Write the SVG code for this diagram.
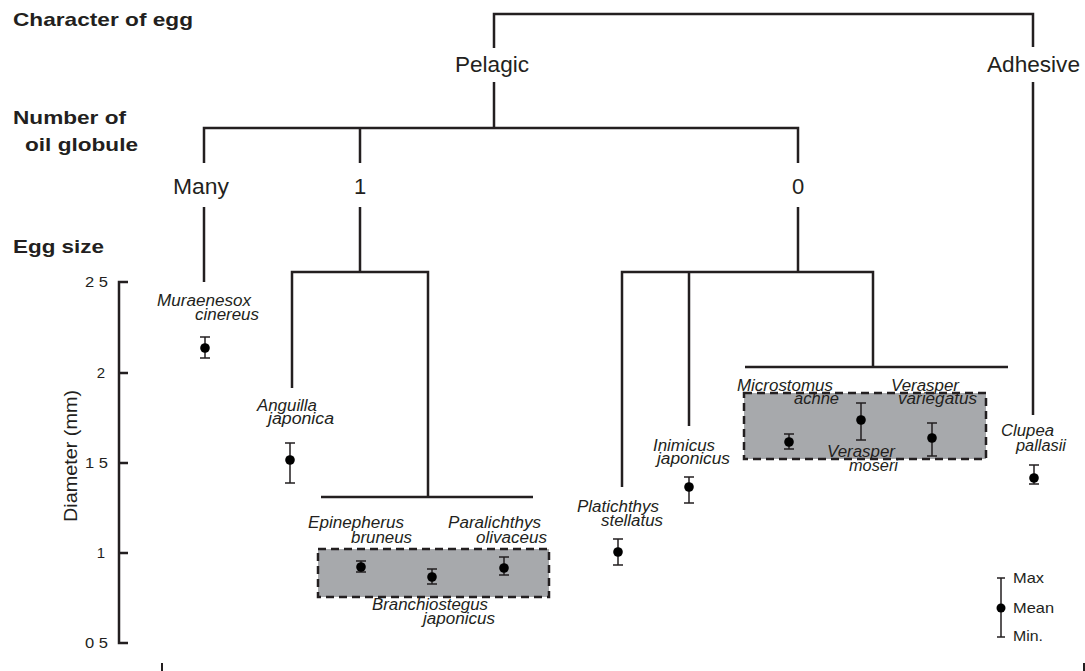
<svg xmlns="http://www.w3.org/2000/svg" width="1085" height="671" viewBox="0 0 1085 671">
<style>
text{font-family:"Liberation Sans",Arial,sans-serif;fill:#231f20}
.h{font-weight:bold;font-size:19px}
.c{font-size:22px}
.sp{font-style:italic;font-size:16px}
.tk{font-size:15px}
.lg{font-size:14.5px}
.ln{fill:none;stroke:#231f20;stroke-width:2.5}
.bar{fill:none;stroke:#231f20;stroke-width:1.5}
.dot{fill:#000}
.box{fill:#a7a9ac;stroke:#231f20;stroke-width:2.5;stroke-dasharray:8 5}
</style>
<defs>
<g id="cap"><line x1="-5" y1="0" x2="5" y2="0" stroke="#231f20" stroke-width="1.5"/></g>
</defs>
<g id="headings">
<text class="h" x="13" y="26" textLength="180" lengthAdjust="spacingAndGlyphs">Character of egg</text>
<text class="h" x="13" y="124" textLength="113" lengthAdjust="spacingAndGlyphs">Number of</text>
<text class="h" x="25" y="151" textLength="113" lengthAdjust="spacingAndGlyphs">oil globule</text>
<text class="h" x="13" y="253" textLength="91" lengthAdjust="spacingAndGlyphs">Egg size</text>
</g>
<g id="connectors">
<path class="ln" d="M494 48V14H1033V47"/>
<path class="ln" d="M494 82V128"/>
<path class="ln" d="M204 163V128H798V163M360 128V163"/>
<path class="ln" d="M204 207V282"/>
<path class="ln" d="M360 207V272M292 388V272H428V497M321 497H533"/>
<path class="ln" d="M798 207V272M622 487V272H873V367M689 426V272M745 367H1008"/>
<path class="ln" d="M1033 82V415"/>
</g>
<g id="node-pelagic"><text class="c" x="455" y="72" textLength="74" lengthAdjust="spacingAndGlyphs">Pelagic</text></g>
<g id="node-adhesive"><text class="c" x="987" y="72" textLength="93" lengthAdjust="spacingAndGlyphs">Adhesive</text></g>
<g id="node-many"><text class="c" x="173" y="193.5" textLength="56" lengthAdjust="spacingAndGlyphs">Many</text></g>
<g id="node-one"><text class="c" x="360" y="193.5" text-anchor="middle">1</text></g>
<g id="node-zero"><text class="c" x="798" y="193.5" text-anchor="middle">0</text></g>
<g id="axis">
<path class="ln" d="M128 282H119V643H128M119 373H128M119 463H128M119 553H128"/>
<text class="tk" x="108" y="287" text-anchor="end" textLength="23" lengthAdjust="spacingAndGlyphs">2 5</text>
<text class="tk" x="105" y="378" text-anchor="end">2</text>
<text class="tk" x="108" y="468" text-anchor="end" textLength="23" lengthAdjust="spacingAndGlyphs">1 5</text>
<text class="tk" x="105" y="558" text-anchor="end">1</text>
<text class="tk" x="108" y="648" text-anchor="end" textLength="23" lengthAdjust="spacingAndGlyphs">0 5</text>
<text transform="translate(77 456) rotate(-90)" font-size="19" text-anchor="middle" textLength="132" lengthAdjust="spacingAndGlyphs">Diameter (mm)</text>
<line x1="162" y1="663" x2="162" y2="671" stroke="#231f20" stroke-width="2"/>
<line x1="1084" y1="663" x2="1084" y2="671" stroke="#231f20" stroke-width="2"/>
</g>
<g id="group-box-1"><rect class="box" x="318" y="549" width="231" height="48"/></g>
<g id="group-box-2"><rect class="box" x="744" y="393" width="242" height="66"/></g>
<g id="sp-muraenesox">
<text class="sp" x="157" y="306" textLength="94" lengthAdjust="spacingAndGlyphs">Muraenesox</text>
<text class="sp" x="195" y="320" textLength="64" lengthAdjust="spacingAndGlyphs">cinereus</text>
<path class="bar" d="M205 337V358M200 337H210M200 358H210"/><circle class="dot" cx="205" cy="348" r="4.8"/>
</g>
<g id="sp-anguilla">
<text class="sp" x="257" y="411" textLength="60" lengthAdjust="spacingAndGlyphs">Anguilla</text>
<text class="sp" x="268" y="424" textLength="66" lengthAdjust="spacingAndGlyphs">japonica</text>
<path class="bar" d="M290 443V483M285 443H295M285 483H295"/><circle class="dot" cx="290" cy="460" r="4.8"/>
</g>
<g id="sp-epinepherus">
<text class="sp" x="308" y="528" textLength="96" lengthAdjust="spacingAndGlyphs">Epinepherus</text>
<text class="sp" x="351" y="543" textLength="61" lengthAdjust="spacingAndGlyphs">bruneus</text>
<path class="bar" d="M361 561V572M356 561H366M356 572H366"/><circle class="dot" cx="361" cy="567" r="4.8"/>
</g>
<g id="sp-branchiostegus">
<text class="sp" x="372" y="610" textLength="116" lengthAdjust="spacingAndGlyphs">Branchiostegus</text>
<text class="sp" x="423" y="624" textLength="72" lengthAdjust="spacingAndGlyphs">japonicus</text>
<path class="bar" d="M432 569V584M427 569H437M427 584H437"/><circle class="dot" cx="432" cy="577" r="4.8"/>
</g>
<g id="sp-paralichthys">
<text class="sp" x="448" y="528" textLength="93" lengthAdjust="spacingAndGlyphs">Paralichthys</text>
<text class="sp" x="476" y="543" textLength="71" lengthAdjust="spacingAndGlyphs">olivaceus</text>
<path class="bar" d="M504 557V575M499 557H509M499 575H509"/><circle class="dot" cx="504" cy="568" r="4.8"/>
</g>
<g id="sp-platichthys">
<text class="sp" x="577" y="512" textLength="82" lengthAdjust="spacingAndGlyphs">Platichthys</text>
<text class="sp" x="601" y="526" textLength="62" lengthAdjust="spacingAndGlyphs">stellatus</text>
<path class="bar" d="M618 539V565M613 539H623M613 565H623"/><circle class="dot" cx="618" cy="552" r="4.8"/>
</g>
<g id="sp-inimicus">
<text class="sp" x="653" y="451" textLength="62" lengthAdjust="spacingAndGlyphs">Inimicus</text>
<text class="sp" x="657" y="464" textLength="73" lengthAdjust="spacingAndGlyphs">japonicus</text>
<path class="bar" d="M689 477V503M684 477H694M684 503H694"/><circle class="dot" cx="689" cy="487" r="4.8"/>
</g>
<g id="sp-microstomus">
<text class="sp" x="737" y="391" textLength="96" lengthAdjust="spacingAndGlyphs">Microstomus</text>
<text class="sp" x="794" y="404" textLength="45" lengthAdjust="spacingAndGlyphs">achne</text>
<path class="bar" d="M789 434V449M784 434H794M784 449H794"/><circle class="dot" cx="789" cy="442" r="4.8"/>
</g>
<g id="sp-verasper-moseri">
<text class="sp" x="827" y="457" textLength="68" lengthAdjust="spacingAndGlyphs">Verasper</text>
<text class="sp" x="849" y="471" textLength="49" lengthAdjust="spacingAndGlyphs">moseri</text>
<path class="bar" d="M861 403V440M856 403H866M856 440H866"/><circle class="dot" cx="861" cy="420" r="4.8"/>
</g>
<g id="sp-verasper-variegatus">
<text class="sp" x="891" y="391" textLength="68" lengthAdjust="spacingAndGlyphs">Verasper</text>
<text class="sp" x="898" y="404" textLength="79" lengthAdjust="spacingAndGlyphs">variegatus</text>
<path class="bar" d="M932 423V456M927 423H937M927 456H937"/><circle class="dot" cx="932" cy="438" r="4.8"/>
</g>
<g id="sp-clupea">
<text class="sp" x="1001" y="436" textLength="53" lengthAdjust="spacingAndGlyphs">Clupea</text>
<text class="sp" x="1016" y="451" textLength="50" lengthAdjust="spacingAndGlyphs">pallasii</text>
<path class="bar" d="M1034 465V484M1029 465H1039M1029 484H1039"/><circle class="dot" cx="1034" cy="478" r="4.8"/>
</g>
<g id="legend">
<path class="bar" d="M1001 578V637M997 578H1005M997 637H1005"/><circle class="dot" cx="1001" cy="608" r="4.5"/>
<text class="lg" x="1013" y="583" textLength="31" lengthAdjust="spacingAndGlyphs">Max</text>
<text class="lg" x="1013" y="613" textLength="41" lengthAdjust="spacingAndGlyphs">Mean</text>
<text class="lg" x="1013" y="641" textLength="30" lengthAdjust="spacingAndGlyphs">Min.</text>
</g>
</svg>
